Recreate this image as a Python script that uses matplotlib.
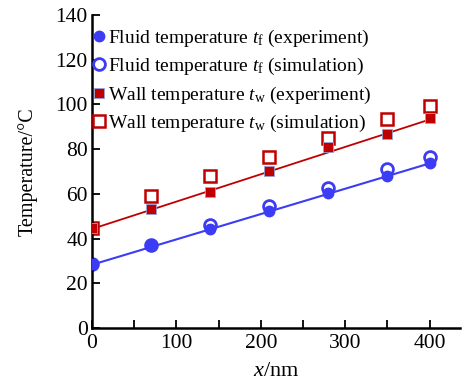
import matplotlib.pyplot as plt
from matplotlib.ticker import MultipleLocator

plt.rcParams['font.family'] = ['Liberation Serif', 'DejaVu Serif']
plt.rcParams['mathtext.fontset'] = 'custom'
plt.rcParams['mathtext.rm'] = 'Liberation Serif'
plt.rcParams['mathtext.it'] = 'Liberation Serif:italic'

# positions along the channel, nm
x = [0, 70, 140, 210, 280, 350, 400]

fluid_exp = [28.5, 37.0, 44.1, 52.3, 60.5, 68.1, 73.9]
fluid_sim = [28.5, 37.0, 45.9, 54.6, 62.7, 71.0, 76.6]
wall_exp = [44.6, 53.2, 61.0, 70.4, 81.1, 86.6, 93.8]
wall_sim = [44.6, 59.0, 68.1, 76.6, 85.1, 93.6, 99.3]

# fitted trend lines (end points)
fit_x = [0, 400]
fluid_fit = [28.3, 73.6]
wall_fit = [44.3, 93.2]

blue = '#3c3cf5'
red = '#c00000'

fig = plt.figure(figsize=(4.67, 3.81), dpi=100)
ax = fig.add_axes([0.197, 0.139, 0.788, 0.822])

ax.plot(fit_x, fluid_fit, color=blue, lw=1.5, zorder=1)
ax.plot(fit_x, wall_fit, color=red, lw=1.3, zorder=1)

ax.plot(x, fluid_sim, 'o', mfc='white', mec=blue, mew=2, ms=8.5, ls='none', zorder=2,
        label=r'Fluid temperature $t_\mathrm{f}$ (simulation)')
ax.plot(x, fluid_exp, 'o', color=blue, ms=7.5, ls='none', zorder=3,
        label=r'Fluid temperature $t_\mathrm{f}$ (experiment)')
ax.plot(x, wall_sim, 's', mfc='white', mec=red, mew=1.8, ms=8, ls='none', zorder=2,
        label=r'Wall temperature $t_\mathrm{w}$ (simulation)')
ax.plot(x, wall_exp, 's', color=red, mec='#8fa6d8', mew=0.6, ms=7.5, ls='none', zorder=3,
        label=r'Wall temperature $t_\mathrm{w}$ (experiment)')

handles, labels = ax.get_legend_handles_labels()
order = [1, 0, 3, 2]
ax.legend([handles[i] for i in order], [labels[i] for i in order],
          loc='upper left', bbox_to_anchor=(-0.045, 1.015), frameon=False,
          fontsize=14, handlelength=0.6, handletextpad=0.15, labelspacing=0.38)

ax.set_xlim(0, 436)
ax.set_ylim(0, 140)
ax.xaxis.set_major_locator(MultipleLocator(100))
ax.xaxis.set_minor_locator(MultipleLocator(50))
ax.yaxis.set_major_locator(MultipleLocator(20))
ax.tick_params(which='both', direction='in', length=5.5, width=1.3, labelsize=15.5)
ax.tick_params(axis='x', pad=4)
ax.tick_params(axis='y', pad=3)

for side in ['top', 'right']:
    ax.spines[side].set_visible(False)
for side in ['left', 'bottom']:
    ax.spines[side].set_linewidth(1.8)

ax.set_xlabel(r'$x$/nm', fontsize=16, labelpad=7)
ax.set_ylabel('Temperature/°C', fontsize=14.5, labelpad=13)

fig.savefig('out.png', dpi=100)
